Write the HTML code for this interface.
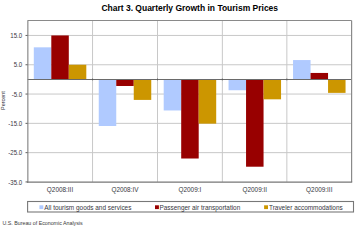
<!DOCTYPE html>
<html><head><meta charset="utf-8"><style>
html,body{margin:0;padding:0;background:#fff;width:355px;height:228px;overflow:hidden}
svg{display:block}
text{font-family:"Liberation Sans",sans-serif}
.ax{font-size:6.4px;fill:#36363e}
.leg{font-size:6.45px;fill:#36363e}
.title{font-size:8.5px;font-weight:bold;fill:#000}
.foot{font-size:5.3px;fill:#3a3a3a}
.pct{font-size:5.45px;fill:#36363e}
</style></head><body>
<svg width="355" height="228" viewBox="0 0 355 228">
<rect width="355" height="228" fill="#fff"/>
<line x1="27.6" y1="35.45" x2="351.6" y2="35.45" stroke="#c8c8c8" stroke-width="1"/>
<line x1="27.6" y1="64.75" x2="351.6" y2="64.75" stroke="#c8c8c8" stroke-width="1"/>
<line x1="27.6" y1="94.05" x2="351.6" y2="94.05" stroke="#c8c8c8" stroke-width="1"/>
<line x1="27.6" y1="123.35" x2="351.6" y2="123.35" stroke="#c8c8c8" stroke-width="1"/>
<line x1="27.6" y1="152.65" x2="351.6" y2="152.65" stroke="#c8c8c8" stroke-width="1"/>
<line x1="92.55" y1="20.5" x2="92.55" y2="181.9" stroke="#c8c8c8" stroke-width="1"/>
<line x1="157.50" y1="20.5" x2="157.50" y2="181.9" stroke="#c8c8c8" stroke-width="1"/>
<line x1="222.35" y1="20.5" x2="222.35" y2="181.9" stroke="#c8c8c8" stroke-width="1"/>
<line x1="286.85" y1="20.5" x2="286.85" y2="181.9" stroke="#c8c8c8" stroke-width="1"/>
<rect x="33.80" y="47.32" width="17.5" height="32.08" fill="#b0caff"/>
<rect x="51.30" y="35.45" width="17.5" height="43.95" fill="#980000"/>
<rect x="68.80" y="64.75" width="17.5" height="14.65" fill="#cc9600"/>
<rect x="98.75" y="79.40" width="17.5" height="46.59" fill="#b0caff"/>
<rect x="116.25" y="79.40" width="17.5" height="6.59" fill="#980000"/>
<rect x="133.75" y="79.40" width="17.5" height="20.51" fill="#cc9600"/>
<rect x="163.70" y="79.40" width="17.5" height="31.06" fill="#b0caff"/>
<rect x="181.20" y="79.40" width="17.5" height="79.11" fill="#980000"/>
<rect x="198.70" y="79.40" width="17.5" height="44.24" fill="#cc9600"/>
<rect x="228.55" y="79.40" width="17.5" height="10.84" fill="#b0caff"/>
<rect x="246.05" y="79.40" width="17.5" height="87.31" fill="#980000"/>
<rect x="263.55" y="79.40" width="17.5" height="19.92" fill="#cc9600"/>
<rect x="293.05" y="60.06" width="17.5" height="19.34" fill="#b0caff"/>
<rect x="310.55" y="72.95" width="17.5" height="6.45" fill="#980000"/>
<rect x="328.05" y="79.40" width="17.5" height="13.48" fill="#cc9600"/>
<line x1="27.6" y1="79.5" x2="351.6" y2="79.5" stroke="#6a6a6a" stroke-width="1"/>
<line x1="92.55" y1="78.6" x2="92.55" y2="80.3" stroke="#5a5a5a" stroke-width="1"/>
<line x1="157.50" y1="78.6" x2="157.50" y2="80.3" stroke="#5a5a5a" stroke-width="1"/>
<line x1="222.35" y1="78.6" x2="222.35" y2="80.3" stroke="#5a5a5a" stroke-width="1"/>
<line x1="286.85" y1="78.6" x2="286.85" y2="80.3" stroke="#5a5a5a" stroke-width="1"/>
<line x1="27.6" y1="20.5" x2="351.6" y2="20.5" stroke="#8a8a8a" stroke-width="1.2"/>
<line x1="351.6" y1="20.5" x2="351.6" y2="181.9" stroke="#8a8a8a" stroke-width="1.2"/>
<line x1="27.85" y1="20.5" x2="27.85" y2="182.5" stroke="#858585" stroke-width="1.15"/>
<line x1="27.0" y1="182.1" x2="352.20000000000005" y2="182.1" stroke="#767676" stroke-width="1.05"/>
<line x1="25.5" y1="35.45" x2="27.6" y2="35.45" stroke="#606060" stroke-width="1"/>
<line x1="25.5" y1="64.75" x2="27.6" y2="64.75" stroke="#606060" stroke-width="1"/>
<line x1="25.5" y1="94.05" x2="27.6" y2="94.05" stroke="#606060" stroke-width="1"/>
<line x1="25.5" y1="123.35" x2="27.6" y2="123.35" stroke="#606060" stroke-width="1"/>
<line x1="25.5" y1="152.65" x2="27.6" y2="152.65" stroke="#606060" stroke-width="1"/>
<line x1="25.5" y1="181.95" x2="27.6" y2="181.95" stroke="#606060" stroke-width="1"/>
<rect x="27.6" y="201.5" width="325.9" height="10.5" fill="none" stroke="#787878" stroke-width="1.1"/>
<rect x="39.4" y="205.3" width="3.9" height="3.8" fill="#b0caff"/>
<rect x="155" y="205.3" width="3.9" height="3.8" fill="#980000"/>
<rect x="264.1" y="205.3" width="3.9" height="3.8" fill="#cc9600"/>
<text transform="translate(22.10 38.05) scale(0.95 1.12)" text-anchor="end" class="ax">15.0</text>
<text transform="translate(22.10 67.35) scale(0.95 1.12)" text-anchor="end" class="ax">5.0</text>
<text transform="translate(22.10 96.65) scale(0.95 1.12)" text-anchor="end" class="ax">-5.0</text>
<text transform="translate(22.10 125.95) scale(0.95 1.12)" text-anchor="end" class="ax">-15.0</text>
<text transform="translate(22.10 155.25) scale(0.95 1.12)" text-anchor="end" class="ax">-25.0</text>
<text transform="translate(22.10 184.55) scale(0.95 1.12)" text-anchor="end" class="ax">-35.0</text>
<text transform="translate(60.00 191.80) scale(1.0 1.08)" text-anchor="middle" class="ax">Q2008:III</text>
<text transform="translate(124.95 191.80) scale(1.0 1.08)" text-anchor="middle" class="ax">Q2008:IV</text>
<text transform="translate(189.90 191.80) scale(1.0 1.08)" text-anchor="middle" class="ax">Q2009:I</text>
<text transform="translate(254.75 191.80) scale(1.0 1.08)" text-anchor="middle" class="ax">Q2009:II</text>
<text transform="translate(319.25 191.80) scale(1.0 1.08)" text-anchor="middle" class="ax">Q2009:III</text>
<text transform="translate(44.20 209.80) scale(1.0 1.06)" text-anchor="start" class="leg">All tourism goods and services</text>
<text transform="translate(159.50 209.80) scale(1.0 1.06)" text-anchor="start" class="leg">Passenger air transportation</text>
<text transform="translate(269.00 209.80) scale(1.0 1.06)" text-anchor="start" class="leg">Traveler accommodations</text>
<text transform="translate(101.40 10.50) scale(1.0 1.04)" text-anchor="start" class="title">Chart 3. Quarterly Growth in Tourism Prices</text>
<text transform="translate(2.50 224.70) scale(1.0 1.08)" text-anchor="start" class="foot">U.S. Bureau of Economic Analysis</text>
<text transform="translate(5.25 100.6) rotate(-90)" text-anchor="middle" class="pct">Percent</text>
</svg>
</body></html>
